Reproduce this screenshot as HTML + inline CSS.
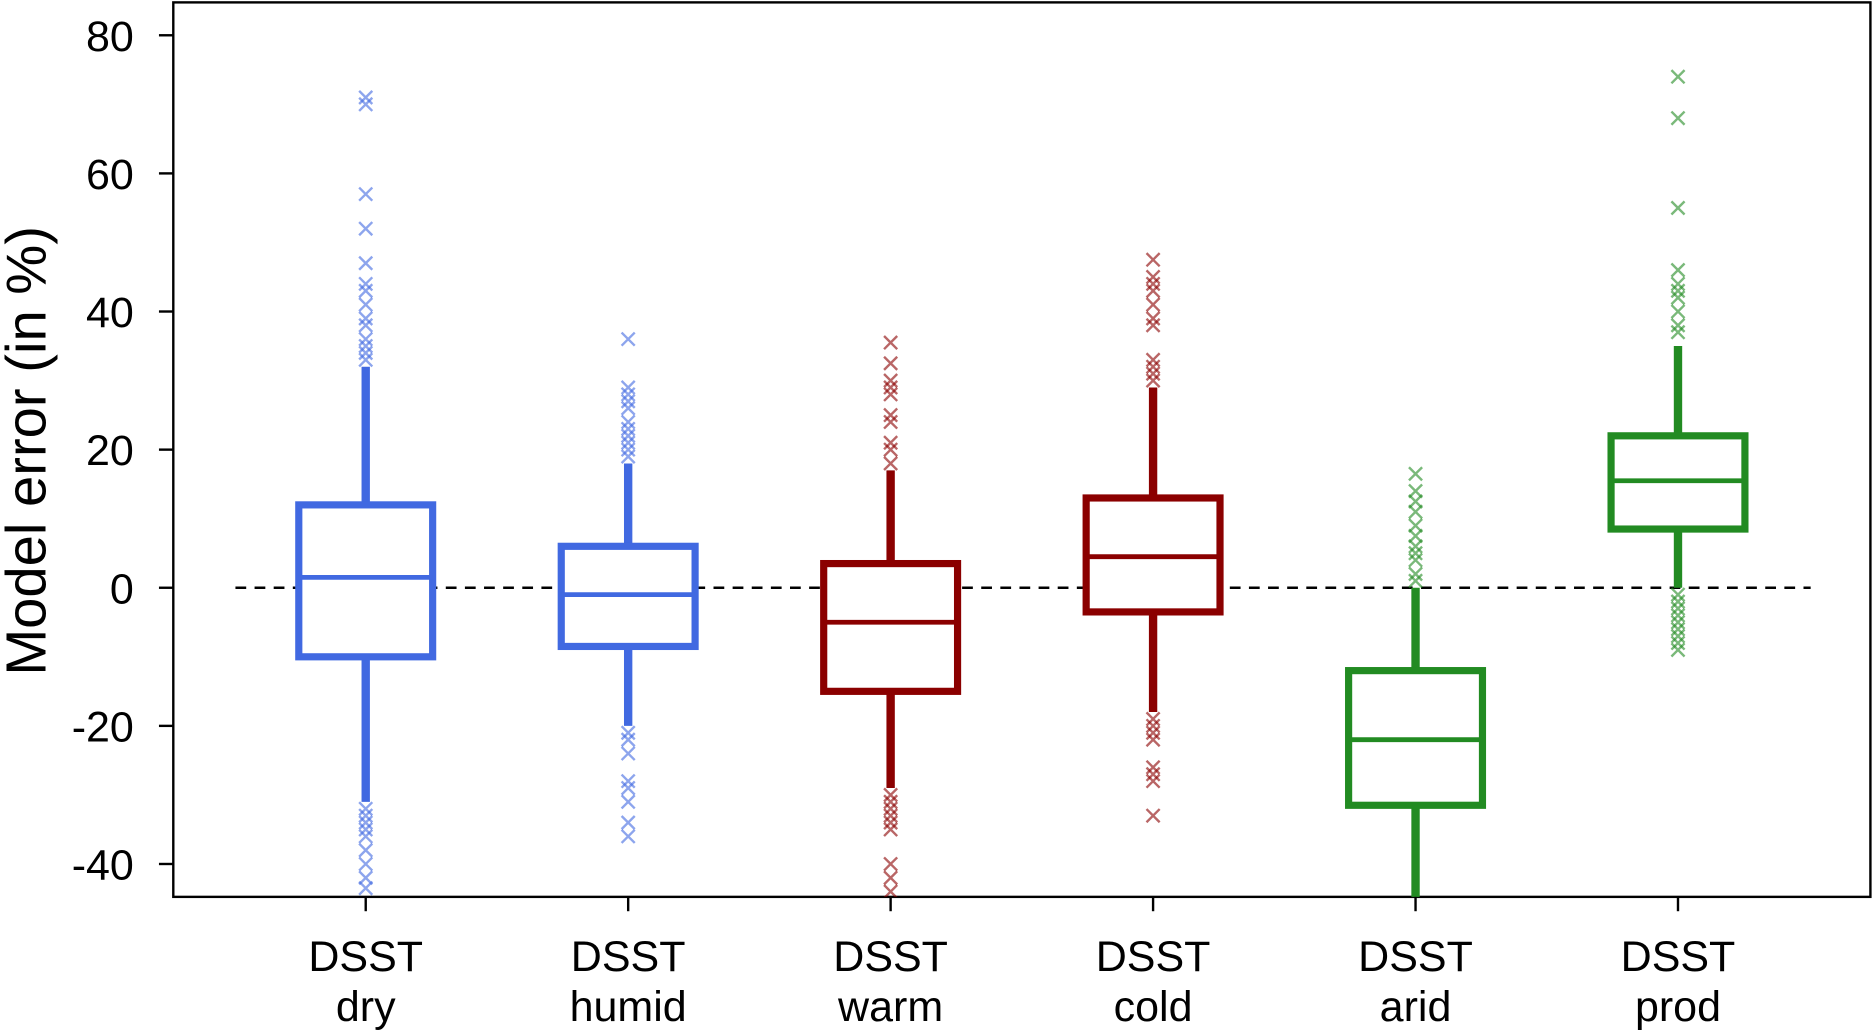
<!DOCTYPE html>
<html><head><meta charset="utf-8"><style>
html,body{margin:0;padding:0;background:#fff;}
svg{display:block;}
text{font-family:"Liberation Sans",Arial,sans-serif;fill:#000;}
</style></head><body>
<svg id="chart" width="1874" height="1032" viewBox="0 0 1568 863" preserveAspectRatio="none" xmlns="http://www.w3.org/2000/svg"></svg>
<script>
const categories=["dry","humid","warm","cold","arid","prod"];
const colors=["#4169E1","#4169E1","#8B0000","#8B0000","#228B22","#228B22"];
const q1=[-10,-8.5,-15,-3.5,-31.5,8.5];
const med=[1.5,-1,-5,4.5,-22,15.5];
const q3=[12,6,3.5,13,-12,22];
const whiskLo=[-31,-20,-29,-18,-46,0];
const whiskHi=[32,18,17,29,0,35];
const outliers=[
 [71,70,57,52,47,44,43,41,39,38,36,35,34,33,-32,-33,-34,-35,-36,-38,-40,-42,-43.5],
 [36,29,28,27,26,24,23,22,21,20,19,-21,-22,-24,-28,-29,-31,-34,-36],
 [35.5,32.5,30,29,28,25,24,21,20,18,-30,-31,-32,-33,-34,-35,-40,-42,-44],
 [47.5,45,44,43,41,39,38,33,32,31,30,-19,-20,-21,-22,-26,-27,-28,-33],
 [16.5,14,12.5,11,9,7.5,6,5,4,2,1],
 [74,68,55,46,44,43,42,40,38,37,-1,-2,-3,-4,-5,-6,-7,-8,-9]
];
const yTicks=[-40,-20,0,20,40,60,80];
const NS="http://www.w3.org/2000/svg";
const svg=document.getElementById('chart');
const L=145,R=1565,T=2,B=750;
const y=v=>491.5-v*(693/120);
const x=i=>306+i*219.6;
function el(t,a,p){const e=document.createElementNS(NS,t);for(const k in a)e.setAttribute(k,a[k]);(p||svg).appendChild(e);return e;}
const clip=el('clipPath',{id:'c'});el('rect',{x:L,y:T,width:R-L,height:B-T},clip);
const frame=el('rect',{x:L,y:T,width:R-L,height:B-T,fill:'none',stroke:'#000','stroke-width':2});


const zl=el('line',{x1:197,x2:1515,y1:y(0),y2:y(0),stroke:'#000','stroke-width':2,'stroke-dasharray':'9,7'});


yTicks.forEach(v=>{
 const tk=el('line',{x1:L-12,x2:L,y1:y(v),y2:y(v),stroke:'#000','stroke-width':2});
 
 
 const t=el('text',{x:112,y:y(v)+13,'text-anchor':'end','font-size':36});t.textContent=v;
 
 
});
const yt=el('text',{transform:'translate(38,377) rotate(-90)','text-anchor':'middle','font-size':47});yt.textContent='Model error (in %)';


const g=el('g',{'clip-path':'url(#c)'});
categories.forEach((c,i)=>{
 const cx=x(i),col=colors[i],hw=56;
 const grp=el('g',{},g);
 
 
 el('line',{x1:cx,x2:cx,y1:y(q3[i]),y2:y(whiskHi[i]),stroke:col,'stroke-width':7},grp);
 el('line',{x1:cx,x2:cx,y1:y(q1[i]),y2:y(whiskLo[i]),stroke:col,'stroke-width':7},grp);
 el('rect',{x:cx-hw,y:y(q3[i]),width:2*hw,height:y(q1[i])-y(q3[i]),fill:'#fff',stroke:col,'stroke-width':6},grp);
 el('line',{x1:cx-hw,x2:cx+hw,y1:y(med[i]),y2:y(med[i]),stroke:col,'stroke-width':4},grp);
 outliers[i].forEach(v=>{
  const yy=y(v),s=5.5;
  const o=el('path',{d:`M${cx-s},${yy-s}L${cx+s},${yy+s}M${cx-s},${yy+s}L${cx+s},${yy-s}`,stroke:col,'stroke-width':2,'stroke-opacity':0.6,fill:'none'},grp);
  
  
 });
 const tk=el('line',{x1:cx,x2:cx,y1:B,y2:B+12,stroke:'#000','stroke-width':2});
 
 
 const t=el('text',{x:cx,y:812,'text-anchor':'middle','font-size':36});
 
 
 el('tspan',{x:cx},t).textContent='DSST';
 el('tspan',{x:cx,dy:42},t).textContent=c;
});
</script>
</body></html>
